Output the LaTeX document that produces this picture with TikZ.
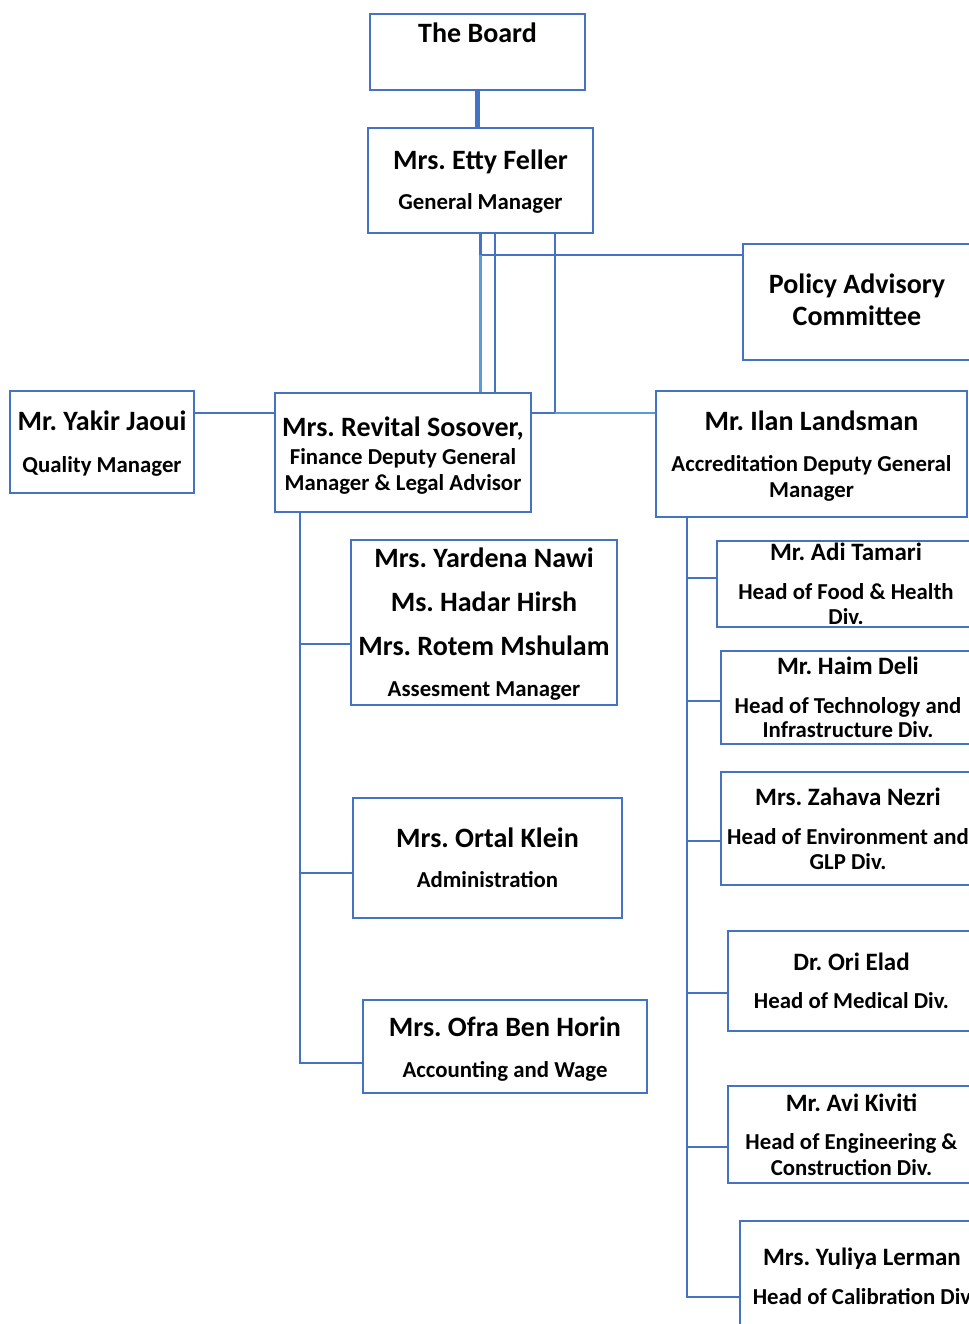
\documentclass[tikz,border=0pt]{standalone}
\usepackage{fontspec}
\setmainfont{Carlito}
\definecolor{orgblue}{HTML}{4472C4}
\definecolor{orglight}{HTML}{5B9BD5}
\setlength{\lineskiplimit}{-50pt}
\setlength{\lineskip}{0pt}
\frenchspacing
\newcommand{\nm}[1]{{\fontsize{14pt}{0pt}\selectfont #1}}
\newcommand{\nms}[1]{{\fontsize{12.5pt}{0pt}\selectfont #1}}
\newcommand{\hstrut}[1]{\rule{0pt}{#1}}
\tikzset{
  box/.style={draw=orgblue, line width=1.2pt, inner sep=0pt, align=center,
    font=\fontsize{11.4pt}{0pt}\selectfont\bfseries},
  conn/.style={orgblue, line width=1.1pt},
}
\begin{document}
\begin{tikzpicture}[x=0.5pt,y=-0.5pt]
      \useasboundingbox (0,0) rectangle (969,1324);
      \clip (0,0) rectangle (969,1324);
      \node[box, minimum width=107.5pt, text height=14pt, text depth=24pt] (board) at (477.5,52) {\nm{The Board}};
      \node[box, minimum width=112.5pt, minimum height=52.5pt] (etty) at (480.5,180.5) {\hstrut{11pt}\nm{Mrs. Etty Feller}\\[19.8pt]General Manager};
      \node[box, minimum width=114pt, minimum height=58pt] (policy) at (857,302) {\nm{Policy Advisory}\\[16pt]\nm{Committee}\rule[-2pt]{0pt}{0pt}};
      \node[box, minimum width=92pt, minimum height=51pt] (yakir) at (102,442) {\hstrut{11.5pt}\nm{Mr. Yakir Jaoui}\\[20.8pt]Quality Manager};
      \node[box, minimum width=128pt, minimum height=59.5pt] (revital) at (403,452.5) {\hstrut{13pt}\nm{Mrs. Revital Sosover,}\\[14.3pt]Finance Deputy General\\[13pt]Manager \& Legal Advisor};
      \node[box, minimum width=155.5pt, minimum height=63pt] (ilan) at (811.5,454) {\hstrut{12pt}\nm{Mr. Ilan Landsman}\\[20.3pt]Accreditation Deputy General\\[13pt]Manager};
      \node[box, minimum width=133pt, minimum height=82.5pt] (assess) at (484,622.5) {\hstrut{11.5pt}\nm{Mrs. Yardena Nawi}\\[22pt]\nm{Ms. Hadar Hirsh}\\[22pt]\nm{Mrs. Rotem Mshulam}\\[20.3pt]Assesment Manager};
      \node[box, minimum width=134.5pt, minimum height=60pt] (ortal) at (487.5,858) {\nm{Mrs. Ortal Klein}\\[19.8pt]Administration};
      \node[box, minimum width=142pt, minimum height=46.5pt] (ofra) at (505,1046.5) {\hstrut{12.5pt}\nm{Mrs. Ofra Ben Horin}\\[20.3pt]Accounting and Wage};
      \node[box, minimum width=129pt, minimum height=43pt] (adi) at (846,584) {\nms{Mr. Adi Tamari}\\[19.3pt]Head of Food \& Health\\[12.5pt]Div.};
      \node[box, minimum width=127pt, minimum height=46.5pt] (haim) at (848,697.5) {\nms{Mr. Haim Deli}\\[19.3pt]Head of Technology and\\[12.5pt]Infrastructure Div.};
      \node[box, minimum width=127pt, minimum height=56.5pt] (zahava) at (848,828.5) {\nms{Mrs. Zahava Nezri}\\[19.3pt]Head of Environment and\\[12.5pt]GLP Div.};
      \node[box, minimum width=123.5pt, minimum height=50pt] (ori) at (851.5,981) {\nms{Dr. Ori Elad}\\[18.8pt]Head of Medical Div.};
      \node[box, minimum width=123.5pt, minimum height=48.5pt] (avi) at (851.5,1134.5) {\nms{Mr. Avi Kiviti}\\[18.8pt]Head of Engineering \&\\[13pt]Construction Div.};
      \node[box, minimum width=122pt, minimum height=55pt] (yuliya) at (862,1276) {\nms{Mrs. Yuliya Lerman}\\[19.3pt]Head of Calibration Div};
      \coordinate (tap) at (0,255);
      \coordinate (lvl) at (0,413);
      \coordinate (e2) at (495,0);
      \coordinate (e3) at (555,0);
      \coordinate (rx) at (300,0);
      \coordinate (ix) at (687,0);
      \draw[conn, line width=2.2pt] (board.south) -- (board.south |- etty.north);
      \draw[conn] (etty.south) -- (etty.south |- tap) -- (policy.west |- tap);
      \draw[conn, orglight] (etty.south |- tap) -- (etty.south |- revital.north);
      \draw[conn] (etty.south -| e2) -- (revital.north -| e2);
      \draw[conn] (etty.south -| e3) -- (lvl -| e3);
      \draw[conn] (yakir.east |- lvl) -- (revital.west |- lvl);
      \draw[conn] (revital.east |- lvl) -- (lvl -| e3);
      \draw[conn, orglight] (lvl -| e3) -- (ilan.west |- lvl);
      \draw[conn] (revital.south -| rx) |- ([yshift=-10.75pt]assess.west);
      \draw[conn] (revital.south -| rx) |- ([yshift=-7.5pt]ortal.west);
      \draw[conn] (revital.south -| rx) |- ([yshift=-8.25pt]ofra.west);
      \draw[conn] (ilan.south -| ix) |- ([yshift=3pt]adi.west);
      \draw[conn] (ilan.south -| ix) |- ([yshift=-1.75pt]haim.west);
      \draw[conn] (ilan.south -| ix) |- ([yshift=-6.25pt]zahava.west);
      \draw[conn] (ilan.south -| ix) |- ([yshift=-6pt]ori.west);
      \draw[conn] (ilan.south -| ix) |- ([yshift=-6.25pt]avi.west);
      \draw[conn] (ilan.south -| ix) |- ([yshift=-10.5pt]yuliya.west);
    \end{tikzpicture}
\end{document}
